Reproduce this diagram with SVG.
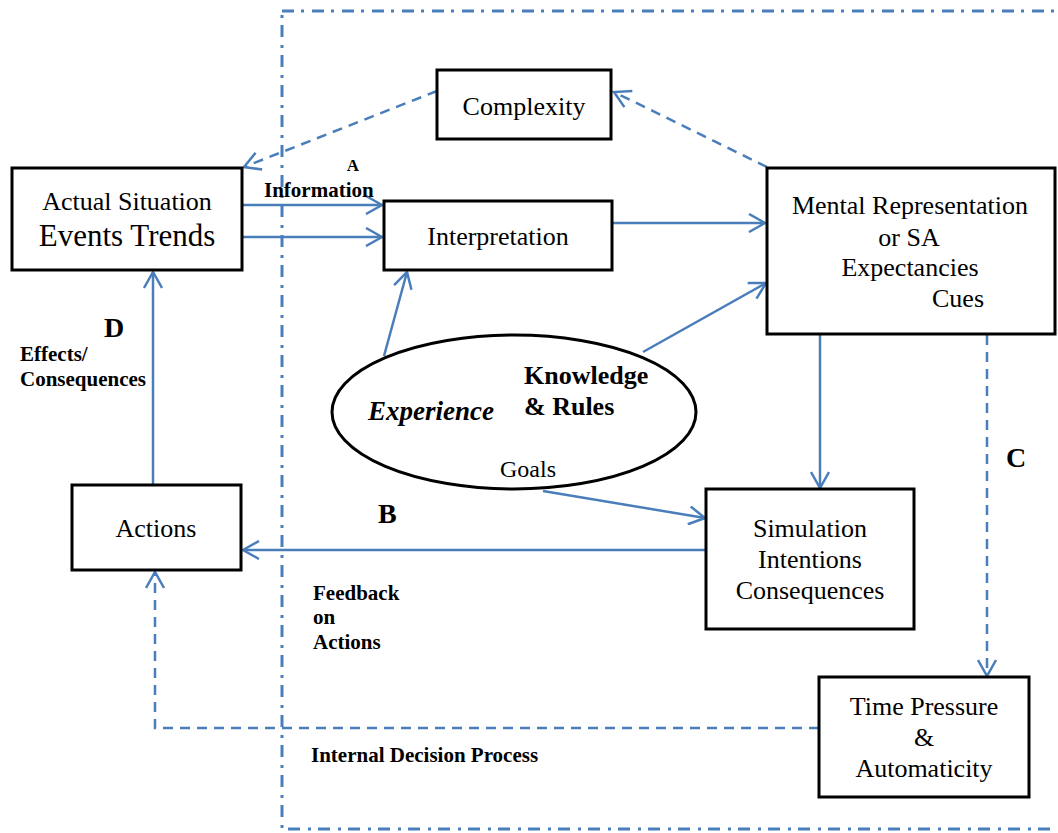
<svg xmlns="http://www.w3.org/2000/svg" width="1058" height="833" viewBox="0 0 1058 833">
<style>
.box{fill:#fff;stroke:#000;stroke-width:3}
.t{font-family:"Liberation Serif","Times New Roman",serif;font-size:26px;fill:#000}
.m{text-anchor:middle}
.b{font-family:"Liberation Serif","Times New Roman",serif;font-weight:bold;font-size:21px;fill:#000}
.L{font-family:"Liberation Serif","Times New Roman",serif;font-weight:bold;font-size:28px;fill:#000}
.c{fill:none;stroke:#4A7EBB;stroke-width:2.5}
.d{stroke-dasharray:10 7}
.dd{fill:none;stroke:#4A7EBB;stroke-width:3;stroke-dasharray:12 7 3 8}
</style>
<defs>
<marker id="ah" viewBox="0 0 20 20" refX="18" refY="10" markerWidth="20" markerHeight="20" markerUnits="userSpaceOnUse" orient="auto">
<path d="M2,1 L18,10 L2,19" fill="none" stroke="#4A7EBB" stroke-width="2.5"/>
</marker>
</defs>

<rect id="boundary" class="dd" x="282" y="11" width="800" height="818"/>

<g id="connectors">
<line class="c d" x1="437" y1="91" x2="244" y2="167" marker-end="url(#ah)"/>
<line class="c d" x1="767" y1="167" x2="614" y2="92" marker-end="url(#ah)"/>
<line class="c" x1="242" y1="205" x2="382" y2="205" marker-end="url(#ah)"/>
<line class="c" x1="242" y1="237" x2="382" y2="237" marker-end="url(#ah)"/>
<line class="c" x1="612" y1="223" x2="765" y2="223" marker-end="url(#ah)"/>
<line class="c" x1="384" y1="356" x2="407" y2="272" marker-end="url(#ah)"/>
<line class="c" x1="643" y1="352" x2="766" y2="283" marker-end="url(#ah)"/>
<line class="c" x1="820" y1="335" x2="820" y2="488" marker-end="url(#ah)"/>
<line class="c" x1="543" y1="491" x2="705" y2="518" marker-end="url(#ah)"/>
<line class="c" x1="706" y1="550" x2="243" y2="550" marker-end="url(#ah)"/>
<line class="c" x1="153" y1="485" x2="153" y2="272" marker-end="url(#ah)"/>
<line class="c d" x1="987" y1="335" x2="987" y2="676" marker-end="url(#ah)"/>
<polyline class="c d" points="819,728 155,728 155,572" marker-end="url(#ah)"/>
</g>

<g id="actual-situation">
<rect class="box" x="12" y="168" width="230" height="102"/>
<text class="t m" x="127" y="210">Actual Situation</text>
<text class="t m" x="127" y="246" style="font-size:31px">Events Trends</text>
</g>

<g id="complexity">
<rect class="box" x="437" y="70" width="174" height="69"/>
<text class="t m" x="524" y="115">Complexity</text>
</g>

<g id="interpretation">
<rect class="box" x="384" y="201" width="228" height="69"/>
<text class="t m" x="498" y="245">Interpretation</text>
</g>

<g id="mental-representation">
<rect class="box" x="767" y="168" width="288" height="166"/>
<text class="t m" x="910" y="214">Mental Representation</text>
<text class="t m" x="909" y="246">or SA</text>
<text class="t m" x="910" y="276">Expectancies</text>
<text class="t m" x="958" y="307">Cues</text>
</g>

<g id="knowledge">
<ellipse cx="514" cy="412" rx="182" ry="77" fill="#fff" stroke="#000" stroke-width="3"/>
<text x="368" y="420" style="font-family:'Liberation Serif','Times New Roman',serif;font-size:27px;font-weight:bold;font-style:italic">Experience</text>
<text class="t" x="524" y="384" style="font-weight:bold">Knowledge</text>
<text class="t" x="524" y="415" style="font-weight:bold">&amp; Rules</text>
<text class="t" x="500" y="477" style="font-size:24px">Goals</text>
</g>

<g id="actions">
<rect class="box" x="72" y="485" width="169" height="85"/>
<text class="t m" x="156" y="537">Actions</text>
</g>

<g id="simulation">
<rect class="box" x="706" y="489" width="208" height="140"/>
<text class="t m" x="810" y="537">Simulation</text>
<text class="t m" x="810" y="568">Intentions</text>
<text class="t m" x="810" y="599">Consequences</text>
</g>

<g id="time-pressure">
<rect class="box" x="819" y="677" width="210" height="120"/>
<text class="t m" x="924" y="715">Time Pressure</text>
<text class="t m" x="924" y="746">&amp;</text>
<text class="t m" x="924" y="777">Automaticity</text>
</g>

<g id="labels">
<text class="L m" x="353" y="171" style="font-size:17px">A</text>
<text class="b" x="264" y="197">Information</text>
<text class="L" x="104" y="337">D</text>
<text class="b" x="20" y="361">Effects/</text>
<text class="b" x="20" y="386">Consequences</text>
<text class="L" x="378" y="523">B</text>
<text class="L" x="1006" y="467">C</text>
<text class="b" x="313" y="600">Feedback</text>
<text class="b" x="313" y="624">on</text>
<text class="b" x="313" y="649">Actions</text>
<text class="b" x="311" y="762">Internal Decision Process</text>
</g>
</svg>
